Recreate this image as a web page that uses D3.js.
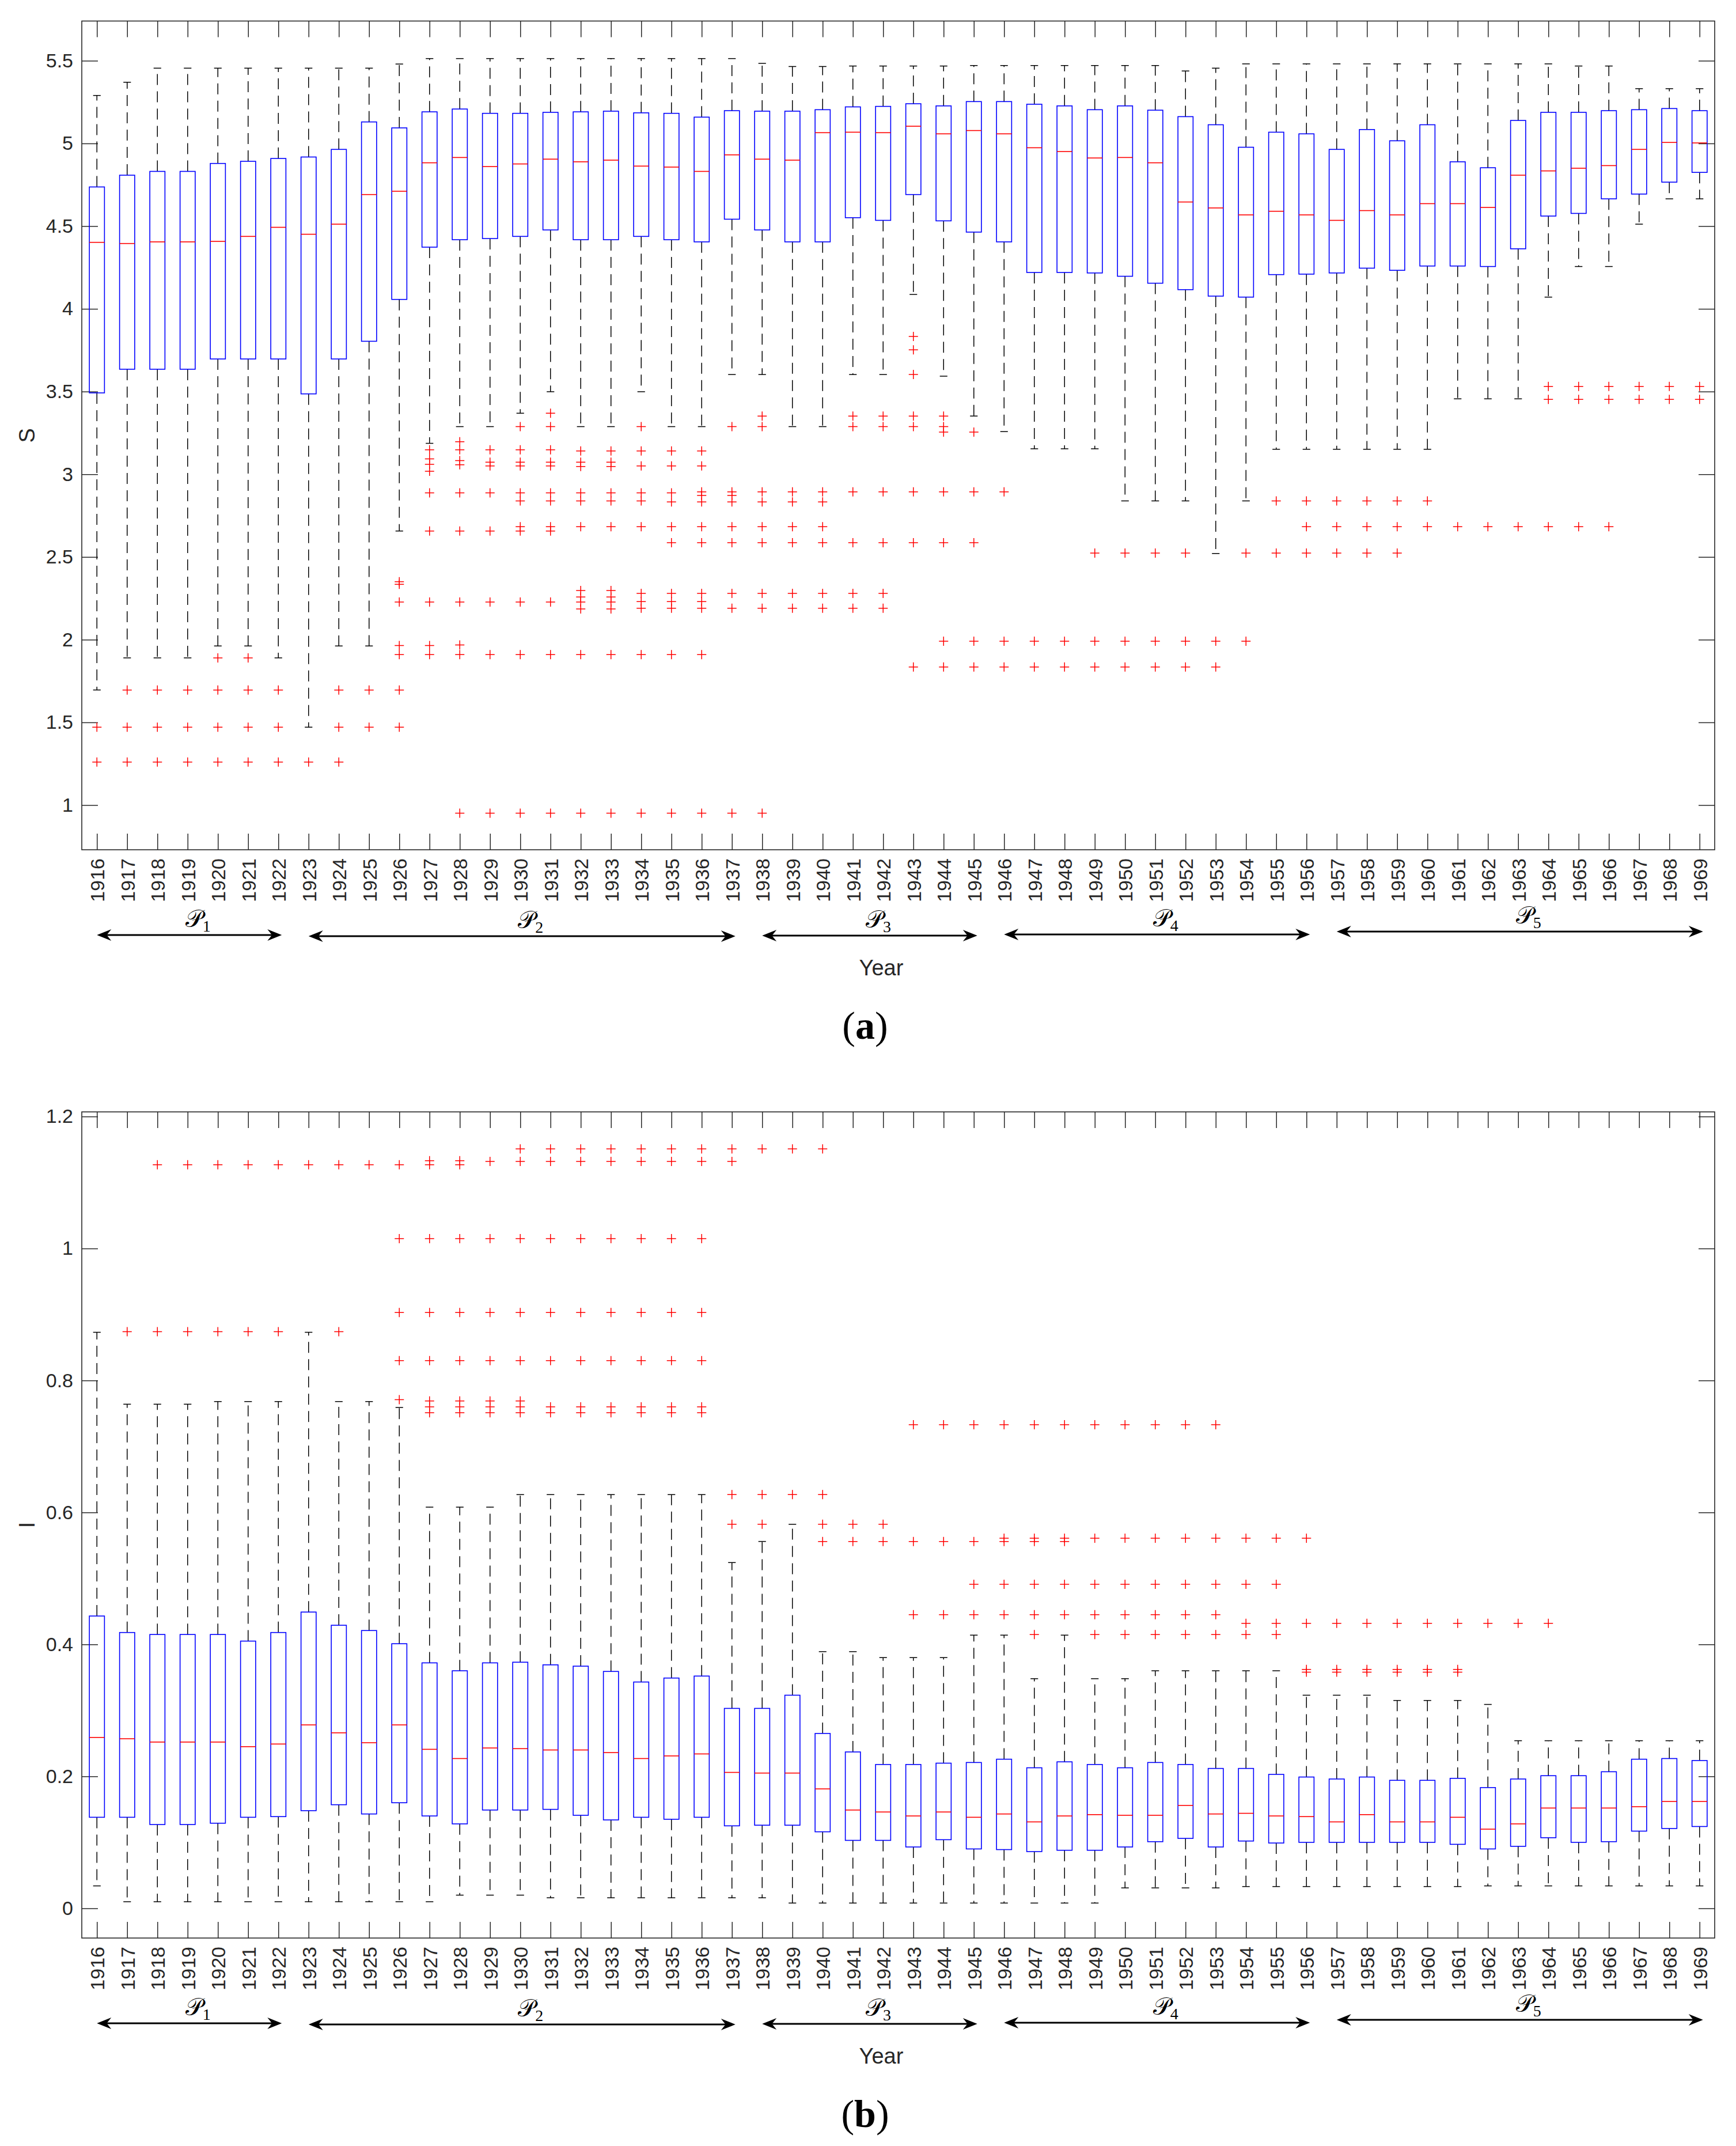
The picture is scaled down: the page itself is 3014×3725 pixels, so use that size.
<!DOCTYPE html>
<html><head><meta charset="utf-8">
<script src="https://cdn.jsdelivr.net/npm/d3@7"></script>
<style>html,body{margin:0;padding:0;background:#fff;} svg{display:block;}</style>
</head><body>
<script>
// ---------- categories ----------
const years = d3.range(1916, 1970);
const periodNames = ["1", "2", "3", "4", "5"];
const periodStart = [1916, 1923, 1938, 1946, 1957];
const periodEnd   = [1922, 1937, 1945, 1956, 1969];

// ---------- panel (a): S ----------
const sTicks = [1, 1.5, 2, 2.5, 3, 3.5, 4, 4.5, 5, 5.5];
const sHi = [
5.29, 5.37, 5.455, 5.455, 5.455, 5.455, 5.455, 5.455, 5.455, 5.455,
5.48, 5.513, 5.513, 5.513, 5.513, 5.513, 5.513, 5.513, 5.513, 5.513,
5.513, 5.513, 5.484, 5.465, 5.465, 5.468, 5.468, 5.468, 5.468, 5.471,
5.471, 5.471, 5.471, 5.471, 5.471, 5.471, 5.438, 5.455, 5.481, 5.481,
5.481, 5.481, 5.481, 5.481, 5.481, 5.481, 5.481, 5.481, 5.481, 5.468,
5.468, 5.331, 5.331, 5.331];
const sQ3 = [
4.737, 4.808, 4.831, 4.831, 4.879, 4.892, 4.909, 4.918, 4.964, 5.130,
5.094, 5.191, 5.208, 5.182, 5.182, 5.188, 5.191, 5.195, 5.185, 5.182,
5.159, 5.198, 5.195, 5.195, 5.204, 5.221, 5.224, 5.240, 5.227, 5.253,
5.253, 5.237, 5.227, 5.204, 5.227, 5.201, 5.162, 5.113, 4.977, 5.068,
5.058, 4.964, 5.084, 5.016, 5.113, 4.889, 4.853, 5.139, 5.188, 5.188,
5.198, 5.204, 5.211, 5.198];
const sMed = [
4.402, 4.395, 4.405, 4.405, 4.408, 4.438, 4.493, 4.451, 4.512, 4.691,
4.711, 4.883, 4.915, 4.860, 4.876, 4.905, 4.889, 4.899, 4.863, 4.857,
4.831, 4.931, 4.905, 4.899, 5.065, 5.068, 5.065, 5.104, 5.058, 5.078,
5.058, 4.974, 4.951, 4.912, 4.915, 4.883, 4.646, 4.610, 4.568, 4.590,
4.568, 4.535, 4.594, 4.568, 4.636, 4.636, 4.613, 4.808, 4.834, 4.850,
4.866, 4.964, 5.006, 5.003];
const sQ1 = [
3.492, 3.635, 3.635, 3.635, 3.697, 3.697, 3.697, 3.486, 3.697, 3.804,
4.057, 4.373, 4.418, 4.425, 4.438, 4.477, 4.418, 4.418, 4.438, 4.418,
4.405, 4.542, 4.477, 4.405, 4.405, 4.551, 4.535, 4.691, 4.532, 4.464,
4.405, 4.220, 4.220, 4.217, 4.197, 4.155, 4.116, 4.077, 4.071, 4.207,
4.210, 4.217, 4.246, 4.233, 4.259, 4.259, 4.256, 4.363, 4.561, 4.577,
4.665, 4.694, 4.766, 4.825];
const sLo = [
1.696, 1.890, 1.890, 1.890, 1.962, 1.962, 1.890, 1.471, 1.962, 1.962,
2.657, 3.187, 3.288, 3.288, 3.369, 3.499, 3.288, 3.288, 3.499, 3.288,
3.288, 3.603, 3.603, 3.288, 3.288, 3.603, 3.603, 4.087, 3.593, 3.352,
3.258, 3.154, 3.154, 3.154, 2.839, 2.839, 2.839, 2.521, 2.839, 3.151,
3.151, 3.151, 3.151, 3.151, 3.151, 3.456, 3.456, 3.456, 4.071, 4.256,
4.256, 4.512, 4.665, 4.665];
const sOut = [
[1.471, 1.260],
[1.696, 1.471, 1.260],
[1.696, 1.471, 1.260],
[1.696, 1.471, 1.260],
[1.890, 1.696, 1.471, 1.260],
[1.890, 1.696, 1.471, 1.260],
[1.696, 1.471, 1.260],
[1.260],
[1.696, 1.471, 1.260],
[1.696, 1.471],
[2.350, 2.335, 2.228, 1.965, 1.910, 1.696, 1.471],                       // 1926
[3.148, 3.093, 3.060, 3.018, 2.888, 2.657, 2.228, 1.965, 1.910],
[3.197, 3.148, 3.083, 3.057, 2.888, 2.657, 2.228, 1.968, 1.910, 0.951],
[3.148, 3.073, 3.050, 2.888, 2.657, 2.228, 1.910, 0.951],
[3.288, 3.148, 3.073, 3.050, 2.888, 2.839, 2.683, 2.657, 2.228, 1.910, 0.951],
[3.369, 3.288, 3.148, 3.073, 3.050, 2.888, 2.839, 2.683, 2.657, 2.228, 1.910, 0.951],
[3.141, 3.073, 3.047, 2.888, 2.839, 2.683, 2.297, 2.258, 2.228, 2.186, 1.910, 0.951],
[3.141, 3.073, 3.047, 2.888, 2.839, 2.683, 2.297, 2.258, 2.228, 2.186, 1.910, 0.951],
[3.288, 3.141, 3.050, 2.888, 2.839, 2.683, 2.280, 2.230, 2.190, 1.910, 0.951],
[3.141, 3.050, 2.888, 2.833, 2.683, 2.586, 2.280, 2.230, 2.190, 1.910, 0.951],
[3.141, 3.050, 2.894, 2.872, 2.833, 2.683, 2.586, 2.280, 2.230, 2.190, 1.910, 0.951], // 1936
[3.288, 2.894, 2.872, 2.833, 2.683, 2.586, 2.280, 2.190, 0.951],
[3.352, 3.288, 2.894, 2.833, 2.683, 2.586, 2.280, 2.190, 0.951],
[2.894, 2.833, 2.683, 2.586, 2.280, 2.190],
[2.894, 2.833, 2.683, 2.586, 2.280, 2.190],
[3.352, 3.288, 2.894, 2.586, 2.280, 2.190],
[3.352, 3.288, 2.894, 2.586, 2.280, 2.190],
[3.833, 3.752, 3.603, 3.352, 3.288, 2.894, 2.586, 1.835],
[3.352, 3.288, 3.255, 2.894, 2.586, 1.991, 1.835],
[3.255, 2.894, 2.586, 1.991, 1.835],
[2.894, 1.991, 1.835],                                                    // 1946
[1.991, 1.835],
[1.991, 1.835],
[2.524, 1.991, 1.835],
[2.524, 1.991, 1.835],
[2.524, 1.991, 1.835],
[2.524, 1.991, 1.835],
[1.991, 1.835],
[2.524, 1.991],
[2.839, 2.524],
[2.839, 2.683, 2.524],                                                    // 1956
[2.839, 2.683, 2.524],
[2.839, 2.683, 2.524],
[2.839, 2.683, 2.524],
[2.839, 2.683],
[2.683],
[2.683],
[2.683],
[3.531, 3.453, 2.683],
[3.531, 3.453, 2.683],
[3.531, 3.453, 2.683],                                                    // 1966
[3.531, 3.453],
[3.531, 3.453],
[3.531, 3.453]];

// ---------- panel (b): I ----------
const iTicks = [0, 0.2, 0.4, 0.6, 0.8, 1, 1.2];
const iHi = [
0.873, 0.764, 0.764, 0.764, 0.768, 0.768, 0.768, 0.873, 0.768, 0.768,
0.759, 0.608, 0.608, 0.608, 0.627, 0.627, 0.627, 0.627, 0.627, 0.627,
0.627, 0.524, 0.556, 0.582, 0.389, 0.389, 0.380, 0.380, 0.380, 0.414,
0.414, 0.348, 0.414, 0.348, 0.348, 0.360, 0.360, 0.360, 0.360, 0.360,
0.323, 0.323, 0.323, 0.315, 0.315, 0.315, 0.309, 0.254, 0.254, 0.254,
0.254, 0.254, 0.254, 0.254];
const iQ3 = [
0.443, 0.418, 0.415, 0.415, 0.415, 0.405, 0.418, 0.449, 0.429, 0.421,
0.401, 0.372, 0.360, 0.372, 0.373, 0.369, 0.367, 0.359, 0.343, 0.349,
0.352, 0.303, 0.303, 0.323, 0.265, 0.237, 0.218, 0.218, 0.220, 0.221,
0.226, 0.213, 0.222, 0.218, 0.213, 0.221, 0.218, 0.212, 0.212, 0.203,
0.199, 0.196, 0.199, 0.194, 0.194, 0.197, 0.183, 0.196, 0.201, 0.201,
0.207, 0.226, 0.227, 0.224];
const iMed = [
0.259, 0.257, 0.252, 0.252, 0.252, 0.245, 0.249, 0.278, 0.266, 0.251,
0.278, 0.241, 0.227, 0.243, 0.242, 0.240, 0.240, 0.236, 0.227, 0.231,
0.234, 0.206, 0.205, 0.205, 0.181, 0.149, 0.146, 0.140, 0.146, 0.138,
0.143, 0.131, 0.140, 0.142, 0.141, 0.141, 0.156, 0.143, 0.144, 0.140,
0.139, 0.131, 0.142, 0.131, 0.131, 0.138, 0.120, 0.128, 0.152, 0.152,
0.152, 0.154, 0.162, 0.162];
const iQ1 = [
0.138, 0.138, 0.127, 0.127, 0.129, 0.138, 0.139, 0.148, 0.157, 0.143,
0.160, 0.140, 0.128, 0.149, 0.149, 0.150, 0.141, 0.134, 0.138, 0.135,
0.138, 0.125, 0.126, 0.126, 0.116, 0.103, 0.103, 0.093, 0.104, 0.090,
0.089, 0.086, 0.088, 0.088, 0.093, 0.101, 0.106, 0.093, 0.102, 0.099,
0.100, 0.100, 0.100, 0.100, 0.100, 0.097, 0.090, 0.094, 0.107, 0.100,
0.101, 0.117, 0.121, 0.124];
const iLo = [
0.034, 0.010, 0.010, 0.010, 0.010, 0.010, 0.010, 0.010, 0.010, 0.010,
0.010, 0.010, 0.020, 0.020, 0.020, 0.016, 0.016, 0.016, 0.016, 0.016,
0.016, 0.016, 0.016, 0.008, 0.008, 0.008, 0.008, 0.008, 0.008, 0.008,
0.008, 0.008, 0.008, 0.008, 0.031, 0.031, 0.031, 0.031, 0.033, 0.033,
0.033, 0.033, 0.033, 0.033, 0.033, 0.033, 0.034, 0.034, 0.034, 0.034,
0.034, 0.034, 0.034, 0.034];
const iOut = [
[],
[0.874],
[1.127, 0.874],
[1.127, 0.874],
[1.127, 0.874],
[1.127, 0.874],
[1.127, 0.874],
[1.127],
[1.127, 0.874],
[1.127],
[1.127, 1.015, 0.903, 0.830, 0.771],                                       // 1926
[1.133, 1.127, 1.015, 0.903, 0.830, 0.769, 0.760, 0.751],
[1.133, 1.127, 1.015, 0.903, 0.830, 0.769, 0.760, 0.751],
[1.132, 1.015, 0.903, 0.830, 0.769, 0.760, 0.751],
[1.151, 1.132, 1.015, 0.903, 0.830, 0.769, 0.760, 0.751],
[1.151, 1.132, 1.015, 0.903, 0.830, 0.760, 0.751],
[1.151, 1.132, 1.015, 0.903, 0.830, 0.760, 0.751],
[1.151, 1.132, 1.015, 0.903, 0.830, 0.760, 0.751],
[1.151, 1.132, 1.015, 0.903, 0.830, 0.760, 0.751],
[1.151, 1.132, 1.015, 0.903, 0.830, 0.760, 0.751],
[1.151, 1.132, 1.015, 0.903, 0.830, 0.760, 0.751],                          // 1936
[1.151, 1.132, 0.627, 0.582],
[1.151, 0.627, 0.582],
[1.151, 0.627],
[1.151, 0.627, 0.582, 0.556],
[0.582, 0.556],
[0.582, 0.556],
[0.733, 0.556, 0.445],
[0.733, 0.556, 0.445],
[0.733, 0.556, 0.491, 0.445],
[0.733, 0.561, 0.556, 0.491, 0.445],                                        // 1946
[0.733, 0.561, 0.556, 0.491, 0.445, 0.415],
[0.733, 0.561, 0.556, 0.491, 0.445],
[0.733, 0.561, 0.491, 0.445, 0.415],
[0.733, 0.561, 0.491, 0.445, 0.415],
[0.733, 0.561, 0.491, 0.445, 0.415],
[0.733, 0.561, 0.491, 0.445, 0.415],
[0.733, 0.561, 0.491, 0.445, 0.415],
[0.561, 0.491, 0.432, 0.415],
[0.561, 0.491, 0.432, 0.415],
[0.561, 0.432, 0.362, 0.358],                                               // 1956
[0.432, 0.362, 0.358],
[0.432, 0.362, 0.358],
[0.432, 0.362, 0.358],
[0.432, 0.362, 0.358],
[0.432, 0.362, 0.358],
[0.432],
[0.432],
[0.432],
[],
[],                                                                         // 1966
[],
[],
[]];

// ---------- drawing ----------
const W = 3014, H = 3725;
const LEFT = 142, RIGHT = 2977;
const AX = "#262626";
const FONT = "'Liberation Sans', Arial, Helvetica, sans-serif";

const svg = d3.select("body").append("svg")
  .attr("width", W).attr("height", H).attr("viewBox", `0 0 ${W} ${H}`);
svg.append("rect").attr("width", W).attr("height", H).attr("fill", "#fff");

const x = d3.scaleLinear().domain([0.5, years.length + 0.5]).range([LEFT, RIGHT]);
const xYear = yr => x(years.indexOf(yr) + 1);
const unit = x(1) - x(0);

function drawPanel(cfg) {
  const y = d3.scaleLinear().domain(cfg.domain).range([cfg.bottom, cfg.top]);
  const g = svg.append("g");
  const n = years.length;
  const stats = d3.range(n).map(i => ({
    i, pos: i + 1, lo: cfg.lo[i], q1: cfg.q1[i], med: cfg.med[i], q3: cfg.q3[i], hi: cfg.hi[i], out: cfg.out[i]
  }));

  // axes (ticks inward, mirrored)
  const tickLen = 28;
  const yl = g.append("g").attr("transform", `translate(${LEFT},0)`)
    .call(d3.axisLeft(y).tickValues(cfg.ticks).tickFormat(d3.format("~g")).tickSize(-tickLen).tickSizeOuter(0).tickPadding(15));
  const yr = g.append("g").attr("transform", `translate(${RIGHT},0)`)
    .call(d3.axisRight(y).tickValues(cfg.ticks).tickFormat("").tickSize(-tickLen).tickSizeOuter(0));
  const xb = g.append("g").attr("transform", `translate(0,${cfg.bottom})`)
    .call(d3.axisBottom(x).tickValues(d3.range(1, n + 1)).tickFormat(p => years[p - 1]).tickSize(-tickLen).tickSizeOuter(0));
  const xt = g.append("g").attr("transform", `translate(0,${cfg.top})`)
    .call(d3.axisTop(x).tickValues(d3.range(1, n + 1)).tickFormat("").tickSize(-tickLen).tickSizeOuter(0));
  [yl, yr, xb, xt].forEach(a => {
    a.select(".domain").remove();
    a.selectAll(".tick line").attr("stroke", AX).attr("stroke-width", 1.5);
    a.selectAll("text").attr("fill", AX).style("font-family", FONT).style("font-size", "34px");
  });
  xb.selectAll("text")
    .attr("transform", "rotate(-90)")
    .attr("x", -15).attr("y", 0).attr("dy", "0.36em")
    .attr("text-anchor", "end");

  g.append("rect").attr("x", LEFT).attr("y", cfg.top)
    .attr("width", RIGHT - LEFT).attr("height", cfg.bottom - cfg.top)
    .attr("fill", "none").attr("stroke", AX).attr("stroke-width", 1.6);

  // boxes
  const bw = unit * 0.25, cw = unit * 0.125;
  const bx = g.append("g").selectAll("g").data(stats).join("g");
  // whiskers (dashed)
  bx.append("line").attr("x1", d => x(d.pos)).attr("x2", d => x(d.pos))
    .attr("y1", d => y(d.q3)).attr("y2", d => y(d.hi))
    .attr("stroke", "#000").attr("stroke-width", 1.5).attr("stroke-dasharray", "19,11");
  bx.append("line").attr("x1", d => x(d.pos)).attr("x2", d => x(d.pos))
    .attr("y1", d => y(d.q1)).attr("y2", d => y(d.lo))
    .attr("stroke", "#000").attr("stroke-width", 1.5).attr("stroke-dasharray", "19,11");
  // caps
  bx.append("line").attr("x1", d => x(d.pos) - cw).attr("x2", d => x(d.pos) + cw)
    .attr("y1", d => y(d.hi)).attr("y2", d => y(d.hi))
    .attr("stroke", "#000").attr("stroke-width", 1.5);
  bx.append("line").attr("x1", d => x(d.pos) - cw).attr("x2", d => x(d.pos) + cw)
    .attr("y1", d => y(d.lo)).attr("y2", d => y(d.lo))
    .attr("stroke", "#000").attr("stroke-width", 1.5);
  // box
  bx.append("rect").attr("x", d => x(d.pos) - bw).attr("width", 2 * bw)
    .attr("y", d => y(d.q3)).attr("height", d => y(d.q1) - y(d.q3))
    .attr("fill", "none").attr("stroke", "#0000ff").attr("stroke-width", 1.6);
  // median
  bx.append("line").attr("x1", d => x(d.pos) - bw).attr("x2", d => x(d.pos) + bw)
    .attr("y1", d => y(d.med)).attr("y2", d => y(d.med))
    .attr("stroke", "#ff0000").attr("stroke-width", 1.6);
  // outliers
  const pts = stats.flatMap(d => d.out.map(v => ({ pos: d.pos, v })));
  g.append("g").selectAll("path").data(pts).join("path")
    .attr("transform", d => `translate(${x(d.pos)},${y(d.v)})`)
    .attr("d", "M-8,0H8M0,-8V8")
    .attr("stroke", "#ff0000").attr("stroke-width", 1.5).attr("fill", "none");

  // y label
  g.append("text").attr("transform", `translate(60,${(cfg.top + cfg.bottom) / 2}) rotate(-90)`)
    .attr("text-anchor", "middle").attr("fill", AX)
    .style("font-family", FONT).style("font-size", "38px").text(cfg.ylabel);

  // period arrows
  const arrowOff = [148, 150, 149, 147, 142];
  periodNames.forEach((name, k) => {
    const x1 = xYear(periodStart[k]);
    const x2 = xYear(periodEnd[k]) + 6;
    const ay = cfg.bottom + arrowOff[k];
    const ag = g.append("g");
    ag.append("line").attr("x1", x1 + 14).attr("x2", x2 - 14).attr("y1", ay).attr("y2", ay)
      .attr("stroke", "#000").attr("stroke-width", 3.2);
    ag.append("path").attr("d", `M${x2},${ay}L${x2 - 25},${ay - 10}L${x2 - 17},${ay}L${x2 - 25},${ay + 10}Z`).attr("fill", "#000");
    ag.append("path").attr("d", `M${x1},${ay}L${x1 + 25},${ay - 10}L${x1 + 17},${ay}L${x1 + 25},${ay + 10}Z`).attr("fill", "#000");
    const lt = ag.append("text").attr("x", (x1 + x2) / 2 + 15).attr("y", ay - 14)
      .attr("text-anchor", "middle").attr("fill", "#000")
      .style("font-family", "'DejaVu Serif', 'Liberation Serif', serif");
    lt.append("tspan").style("font-size", "42px").text("\u{1D4AB}");
    lt.append("tspan").attr("dy", 8).style("font-size", "28px")
      .style("font-family", "'Liberation Serif', serif").text(name);
  });

  // Year label
  g.append("text").attr("x", 1530).attr("y", cfg.bottom + 218)
    .attr("text-anchor", "middle").attr("fill", AX)
    .style("font-family", FONT).style("font-size", "38px").text("Year");

  // panel tag
  const tg = g.append("text").attr("x", 1502).attr("y", cfg.bottom + 328)
    .attr("text-anchor", "middle").attr("fill", "#000")
    .style("font-family", "'Liberation Serif', 'Times New Roman', serif").style("font-size", "68px");
  tg.append("tspan").text("(");
  tg.append("tspan").style("font-weight", "bold").text(cfg.tag);
  tg.append("tspan").text(")");
}

drawPanel({ top: 36.5, bottom: 1475, domain: [0.73, 5.74], ticks: sTicks, ylabel: "S", tag: "a",
  lo: sLo, q1: sQ1, med: sMed, q3: sQ3, hi: sHi, out: sOut });
drawPanel({ top: 1930, bottom: 3364, domain: [-0.045, 1.207], ticks: iTicks, ylabel: "I", tag: "b",
  lo: iLo, q1: iQ1, med: iMed, q3: iQ3, hi: iHi, out: iOut });
</script>
</body></html>
